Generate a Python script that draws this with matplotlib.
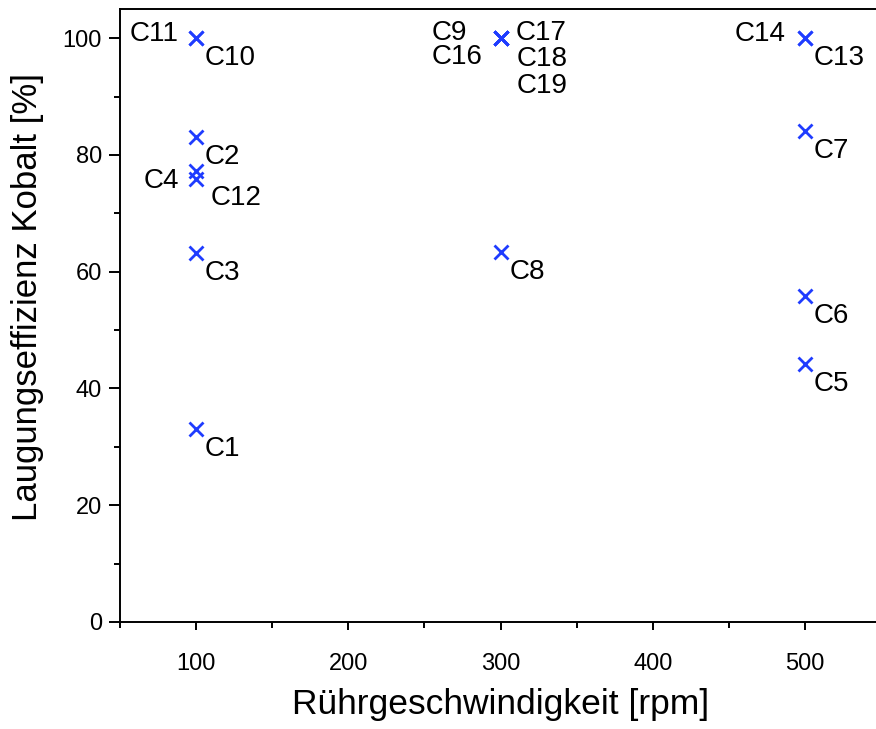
import matplotlib
matplotlib.use("Agg")
import matplotlib.pyplot as plt
from matplotlib.ticker import MultipleLocator

plt.rcParams['font.family'] = ['Liberation Sans', 'DejaVu Sans']

# sample names, stirring speed [rpm] and cobalt leaching efficiency [%]
names = ["C1", "C2", "C3", "C4", "C5", "C6", "C7", "C8", "C9", "C10",
         "C11", "C12", "C13", "C14", "C16", "C17", "C18", "C19"]
speed = [100, 100, 100, 100, 500, 500, 500, 300, 300, 100,
         100, 100, 500, 500, 300, 300, 300, 300]
efficiency = [33.0, 83.1, 63.2, 77.2, 44.2, 55.8, 84.1, 63.3, 100, 100,
              100, 75.9, 100, 100, 100, 100, 100, 100]

# label placement in pixels relative to the marker (dx, dy, ha)
label_offsets = {
    "C11": (-17, 4, "right"), "C9": (-33, 5, "right"), "C16": (-18, -19, "right"),
    "C14": (-19, 4, "right"), "C4": (-17, -10, "right"),
    "C17": (15, 5, "left"), "C18": (16, -21, "left"), "C19": (16, -48, "left"),
    "C12": (15, -19, "left"),
}

fig = plt.figure(figsize=(8.76, 7.29), dpi=100)
ax = fig.add_axes([120 / 876, 1 - 622 / 729, (881 - 120) / 876, (622 - 9) / 729])

ax.plot(speed, efficiency, linestyle="none", marker="x", markersize=10.5,
        markeredgewidth=2.0, color="#1f3cff")

for n, x, y in zip(names, speed, efficiency):
    dx, dy, ha = label_offsets.get(n, (9, -20, "left"))
    ax.annotate(n, (x, y), xytext=(dx, dy), textcoords="offset pixels",
                ha=ha, va="center", fontsize=20)

ax.set_xlim(50, 550)
ax.set_ylim(0, 105)
ax.xaxis.set_major_locator(MultipleLocator(100))
ax.xaxis.set_minor_locator(MultipleLocator(50))
ax.yaxis.set_major_locator(MultipleLocator(20))
ax.yaxis.set_minor_locator(MultipleLocator(10))

for s in ax.spines.values():
    s.set_linewidth(1.4)
ax.tick_params(axis="both", which="both", direction="out", width=1.4,
               labelsize=17, top=False, right=False)
ax.tick_params(axis="y", which="major", length=8, pad=5)
ax.tick_params(axis="y", which="minor", length=4)
ax.tick_params(axis="x", which="major", length=6, pad=16)
ax.tick_params(axis="x", which="minor", length=4)

ax.set_xlabel("Rührgeschwindigkeit [rpm]", fontsize=25.5, labelpad=10)
ax.set_ylabel("Laugungseffizienz Kobalt [%]", fontsize=25)
ax.yaxis.set_label_coords(-0.1, 0.53)

fig.savefig("out.png", dpi=100)
